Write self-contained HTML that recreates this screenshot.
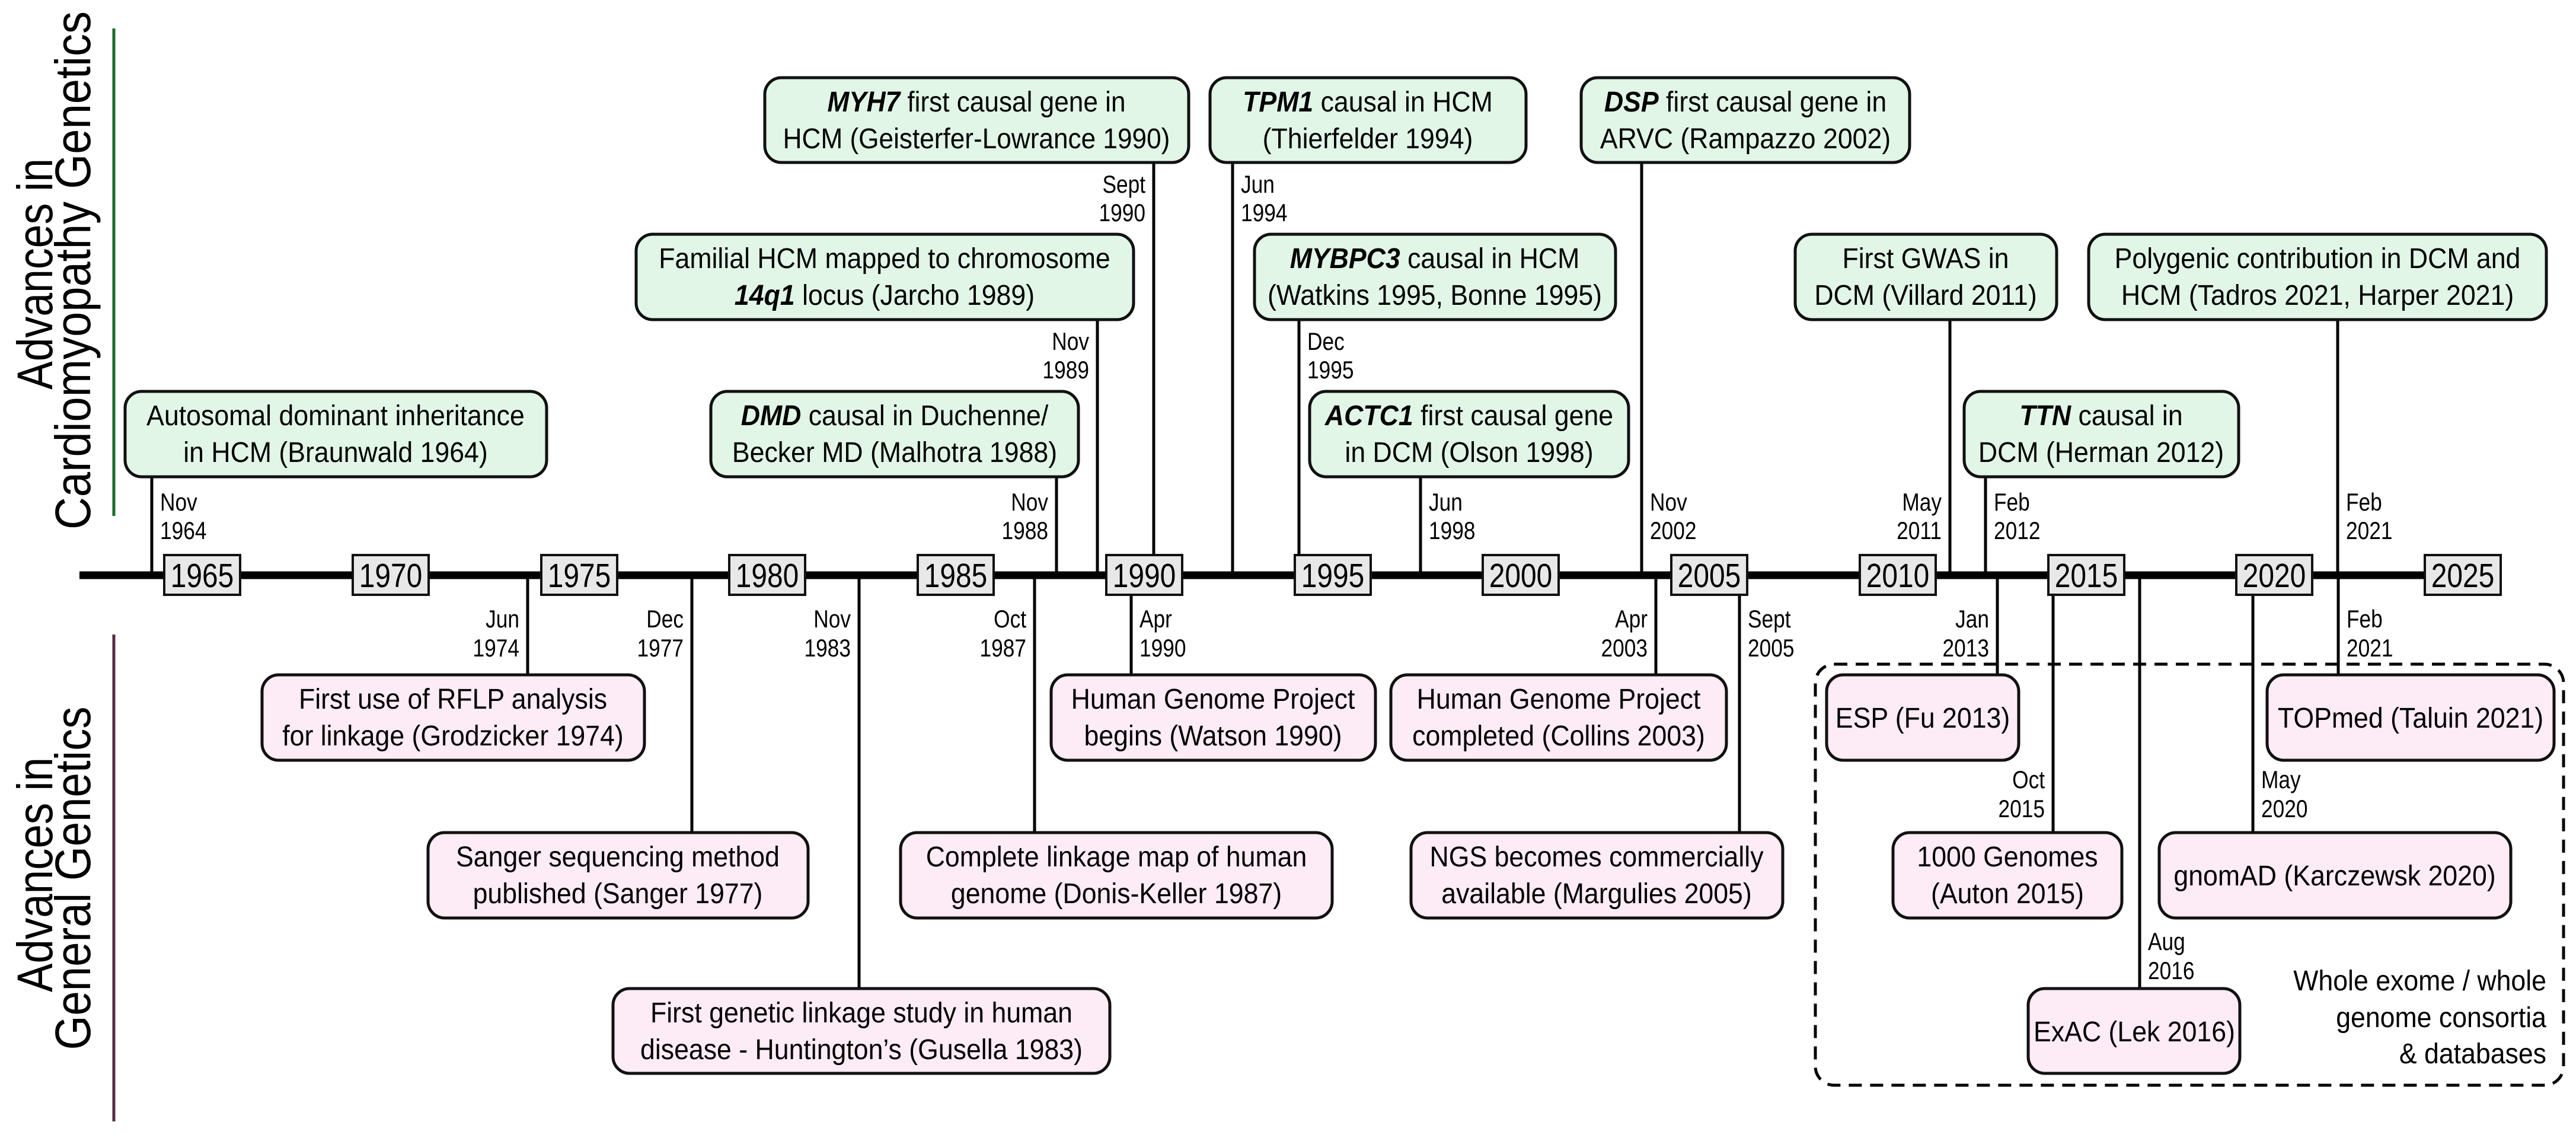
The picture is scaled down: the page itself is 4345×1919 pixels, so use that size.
<!DOCTYPE html>
<html><head><meta charset="utf-8"><style>
html,body{margin:0;padding:0;background:#fff;}
svg{display:block;}
text{font-family:"Liberation Sans",sans-serif;fill:#000;}
.bt{font-size:48px;}
.dt{font-size:42px;}
.yt{font-size:57px;}
</style></head><body>
<svg width="4345" height="1919" viewBox="0 0 4345 1919" xmlns="http://www.w3.org/2000/svg">
<!-- side titles -->
<g font-size="84">
<text transform="translate(88,462) rotate(-90)" text-anchor="middle" textLength="390" lengthAdjust="spacingAndGlyphs">Advances in</text>
<text transform="translate(152,456) rotate(-90)" text-anchor="middle" textLength="874" lengthAdjust="spacingAndGlyphs">Cardiomyopathy Genetics</text>
<text transform="translate(88,1475) rotate(-90)" text-anchor="middle" textLength="396" lengthAdjust="spacingAndGlyphs">Advances in</text>
<text transform="translate(152,1481) rotate(-90)" text-anchor="middle" textLength="579" lengthAdjust="spacingAndGlyphs">General Genetics</text>
</g>
<line x1="192" y1="48" x2="192" y2="870" stroke="#1a6b2a" stroke-width="5"/>
<line x1="192" y1="1070" x2="192" y2="1891" stroke="#5a2a44" stroke-width="5"/>

<!-- connectors -->
<g stroke="#000" stroke-width="5">
<line x1="256" y1="804" x2="256" y2="970"/>
<line x1="1851" y1="539" x2="1851" y2="970"/>
<line x1="1782" y1="804" x2="1782" y2="970"/>
<line x1="1946" y1="274" x2="1946" y2="970"/>
<line x1="2079" y1="274" x2="2079" y2="970"/>
<line x1="2191" y1="539" x2="2191" y2="970"/>
<line x1="2396" y1="804" x2="2396" y2="970"/>
<line x1="2769" y1="274" x2="2769" y2="970"/>
<line x1="3289" y1="539" x2="3289" y2="970"/>
<line x1="3349" y1="804" x2="3349" y2="970"/>
<line x1="3943" y1="539" x2="3943" y2="970"/>

<line x1="890" y1="970" x2="890" y2="1138"/>
<line x1="1167" y1="970" x2="1167" y2="1404"/>
<line x1="1449" y1="970" x2="1449" y2="1667"/>
<line x1="1745" y1="970" x2="1745" y2="1404"/>
<line x1="1908" y1="970" x2="1908" y2="1138"/>
<line x1="2793" y1="970" x2="2793" y2="1138"/>
<line x1="2934" y1="970" x2="2934" y2="1404"/>
<line x1="3369" y1="970" x2="3369" y2="1138"/>
<line x1="3463" y1="970" x2="3463" y2="1404"/>
<line x1="3609" y1="970" x2="3609" y2="1667"/>
<line x1="3800" y1="970" x2="3800" y2="1404"/>
<line x1="3944" y1="970" x2="3944" y2="1138"/>
</g>

<!-- axis -->
<line x1="134" y1="970" x2="4215" y2="970" stroke="#000" stroke-width="13"/>
<g fill="#e8e8e8" stroke="#111" stroke-width="4">
<rect x="277" y="936" width="128" height="67"/>
<rect x="595" y="936" width="128" height="67"/>
<rect x="913" y="936" width="128" height="67"/>
<rect x="1230" y="936" width="128" height="67"/>
<rect x="1548" y="936" width="128" height="67"/>
<rect x="1866" y="936" width="128" height="67"/>
<rect x="2184" y="936" width="128" height="67"/>
<rect x="2501" y="936" width="128" height="67"/>
<rect x="2819" y="936" width="128" height="67"/>
<rect x="3137" y="936" width="128" height="67"/>
<rect x="3455" y="936" width="128" height="67"/>
<rect x="3772" y="936" width="128" height="67"/>
<rect x="4090" y="936" width="128" height="67"/>
</g>
<g class="yt" text-anchor="middle">
<text transform="translate(341,990) scale(0.84,1)">1965</text>
<text transform="translate(659,990) scale(0.84,1)">1970</text>
<text transform="translate(977,990) scale(0.84,1)">1975</text>
<text transform="translate(1294,990) scale(0.84,1)">1980</text>
<text transform="translate(1612,990) scale(0.84,1)">1985</text>
<text transform="translate(1930,990) scale(0.84,1)">1990</text>
<text transform="translate(2248,990) scale(0.84,1)">1995</text>
<text transform="translate(2565,990) scale(0.84,1)">2000</text>
<text transform="translate(2883,990) scale(0.84,1)">2005</text>
<text transform="translate(3201,990) scale(0.84,1)">2010</text>
<text transform="translate(3519,990) scale(0.84,1)">2015</text>
<text transform="translate(3836,990) scale(0.84,1)">2020</text>
<text transform="translate(4154,990) scale(0.84,1)">2025</text>
</g>

<!-- green boxes -->
<g fill="#e1f6e7" stroke="#111" stroke-width="5">
<rect x="211" y="660" width="711" height="144" rx="28"/>
<rect x="1073" y="395" width="839" height="144" rx="28"/>
<rect x="1199" y="660" width="620" height="144" rx="28"/>
<rect x="1290" y="131" width="715" height="143" rx="28"/>
<rect x="2041" y="131" width="533" height="143" rx="28"/>
<rect x="2116" y="395" width="609" height="144" rx="28"/>
<rect x="2209" y="660" width="538" height="144" rx="28"/>
<rect x="2667" y="131" width="554" height="143" rx="28"/>
<rect x="3028" y="395" width="441" height="144" rx="28"/>
<rect x="3313" y="660" width="463" height="144" rx="28"/>
<rect x="3523" y="395" width="772" height="144" rx="28"/>
</g>
<!-- pink boxes -->
<g fill="#fdebf5" stroke="#111" stroke-width="5">
<rect x="442" y="1138" width="645" height="144" rx="28"/>
<rect x="722" y="1404" width="641" height="144" rx="28"/>
<rect x="1034" y="1667" width="838" height="143" rx="28"/>
<rect x="1519" y="1404" width="728" height="144" rx="28"/>
<rect x="1773" y="1138" width="547" height="144" rx="28"/>
<rect x="2346" y="1138" width="566" height="144" rx="28"/>
<rect x="2380" y="1404" width="627" height="144" rx="28"/>
<rect x="3081" y="1138" width="324" height="144" rx="28"/>
<rect x="3193" y="1404" width="386" height="144" rx="28"/>
<rect x="3421" y="1667" width="357" height="143" rx="28"/>
<rect x="3642" y="1404" width="593" height="144" rx="28"/>
<rect x="3824" y="1138" width="484" height="144" rx="28"/>
</g>
<rect x="3062" y="1120" width="1262" height="710" rx="32" fill="none" stroke="#000" stroke-width="5" stroke-dasharray="22 14"/>

<!-- box text -->
<g class="bt" text-anchor="middle">
<text transform="translate(566,717) scale(0.93,1)">Autosomal dominant inheritance</text>
<text transform="translate(566,779) scale(0.93,1)">in HCM (Braunwald 1964)</text>
<text transform="translate(1492,452) scale(0.93,1)">Familial HCM mapped to chromosome</text>
<text transform="translate(1492,514) scale(0.93,1)"><tspan font-weight="bold" font-style="italic">14q1</tspan> locus (Jarcho 1989)</text>
<text transform="translate(1509,717) scale(0.93,1)"><tspan font-weight="bold" font-style="italic">DMD</tspan> causal in Duchenne/</text>
<text transform="translate(1509,779) scale(0.93,1)">Becker MD (Malhotra 1988)</text>
<text transform="translate(1647,188) scale(0.92,1)"><tspan font-weight="bold" font-style="italic">MYH7</tspan> first causal  gene in</text>
<text transform="translate(1647,250) scale(0.92,1)">HCM (Geisterfer-Lowrance 1990)</text>
<text transform="translate(2307,188) scale(0.93,1)"><tspan font-weight="bold" font-style="italic">TPM1</tspan> causal in HCM</text>
<text transform="translate(2307,250) scale(0.93,1)">(Thierfelder 1994)</text>
<text transform="translate(2420,452) scale(0.93,1)"><tspan font-weight="bold" font-style="italic">MYBPC3</tspan> causal  in HCM</text>
<text transform="translate(2420,514) scale(0.93,1)">(Watkins 1995, Bonne 1995)</text>
<text transform="translate(2478,717) scale(0.93,1)"><tspan font-weight="bold" font-style="italic">ACTC1</tspan> first causal gene</text>
<text transform="translate(2478,779) scale(0.93,1)">in DCM (Olson 1998)</text>
<text transform="translate(2944,188) scale(0.93,1)"><tspan font-weight="bold" font-style="italic">DSP</tspan> first causal gene in</text>
<text transform="translate(2944,250) scale(0.93,1)">ARVC (Rampazzo 2002)</text>
<text transform="translate(3248,452) scale(0.93,1)">First GWAS in</text>
<text transform="translate(3248,514) scale(0.93,1)">DCM (Villard 2011)</text>
<text transform="translate(3544,717) scale(0.93,1)"><tspan font-weight="bold" font-style="italic">TTN</tspan> causal in</text>
<text transform="translate(3544,779) scale(0.93,1)">DCM (Herman 2012)</text>
<text transform="translate(3909,452) scale(0.93,1)">Polygenic contribution in DCM and</text>
<text transform="translate(3909,514) scale(0.93,1)">HCM (Tadros 2021, Harper 2021)</text>

<text transform="translate(764,1195) scale(0.93,1)">First use of RFLP analysis</text>
<text transform="translate(764,1257) scale(0.93,1)">for linkage (Grodzicker 1974)</text>
<text transform="translate(1042,1461) scale(0.93,1)">Sanger sequencing method</text>
<text transform="translate(1042,1523) scale(0.93,1)">published (Sanger 1977)</text>
<text transform="translate(1453,1724) scale(0.93,1)">First genetic linkage study in human</text>
<text transform="translate(1453,1786) scale(0.93,1)">disease - Huntington’s (Gusella 1983)</text>
<text transform="translate(1883,1461) scale(0.93,1)">Complete linkage map of human</text>
<text transform="translate(1883,1523) scale(0.93,1)">genome (Donis-Keller 1987)</text>
<text transform="translate(2046,1195) scale(0.93,1)">Human Genome Project</text>
<text transform="translate(2046,1257) scale(0.93,1)">begins (Watson 1990)</text>
<text transform="translate(2629,1195) scale(0.93,1)">Human Genome Project</text>
<text transform="translate(2629,1257) scale(0.93,1)">completed (Collins 2003)</text>
<text transform="translate(2693,1461) scale(0.93,1)">NGS becomes commercially</text>
<text transform="translate(2693,1523) scale(0.93,1)">available (Margulies 2005)</text>
<text transform="translate(3243,1227) scale(0.93,1)">ESP (Fu 2013)</text>
<text transform="translate(3386,1461) scale(0.93,1)">1000 Genomes</text>
<text transform="translate(3386,1523) scale(0.93,1)">(Auton 2015)</text>
<text transform="translate(3600,1756) scale(0.93,1)">ExAC (Lek 2016)</text>
<text transform="translate(3938,1493) scale(0.93,1)">gnomAD (Karczewsk 2020)</text>
<text transform="translate(4066,1227) scale(0.93,1)">TOPmed (Taluin 2021)</text>
</g>
<g class="bt" text-anchor="end">
<text transform="translate(4295,1670) scale(0.93,1)">Whole exome / whole</text>
<text transform="translate(4295,1732) scale(0.93,1)">genome consortia</text>
<text transform="translate(4295,1793) scale(0.93,1)">&amp; databases</text>
</g>

<!-- date labels: right of line -->
<g class="dt">
<text transform="translate(270,861) scale(0.84,1)">Nov</text><text transform="translate(270,909) scale(0.84,1)">1964</text>
<text transform="translate(2093,325) scale(0.84,1)">Jun</text><text transform="translate(2093,373) scale(0.84,1)">1994</text>
<text transform="translate(2205,590) scale(0.84,1)">Dec</text><text transform="translate(2205,638) scale(0.84,1)">1995</text>
<text transform="translate(2410,861) scale(0.84,1)">Jun</text><text transform="translate(2410,909) scale(0.84,1)">1998</text>
<text transform="translate(2783,861) scale(0.84,1)">Nov</text><text transform="translate(2783,909) scale(0.84,1)">2002</text>
<text transform="translate(3363,861) scale(0.84,1)">Feb</text><text transform="translate(3363,909) scale(0.84,1)">2012</text>
<text transform="translate(3957,861) scale(0.84,1)">Feb</text><text transform="translate(3957,909) scale(0.84,1)">2021</text>
<text transform="translate(1922,1058) scale(0.84,1)">Apr</text><text transform="translate(1922,1107) scale(0.84,1)">1990</text>
<text transform="translate(2948,1058) scale(0.84,1)">Sept</text><text transform="translate(2948,1107) scale(0.84,1)">2005</text>
<text transform="translate(3958,1058) scale(0.84,1)">Feb</text><text transform="translate(3958,1107) scale(0.84,1)">2021</text>
<text transform="translate(3814,1329) scale(0.84,1)">May</text><text transform="translate(3814,1378) scale(0.84,1)">2020</text>
<text transform="translate(3623,1602) scale(0.84,1)">Aug</text><text transform="translate(3623,1651) scale(0.84,1)">2016</text>
</g>
<!-- date labels: left of line -->
<g class="dt" text-anchor="end">
<text transform="translate(1837,590) scale(0.84,1)">Nov</text><text transform="translate(1837,638) scale(0.84,1)">1989</text>
<text transform="translate(1768,861) scale(0.84,1)">Nov</text><text transform="translate(1768,909) scale(0.84,1)">1988</text>
<text transform="translate(1932,325) scale(0.84,1)">Sept</text><text transform="translate(1932,373) scale(0.84,1)">1990</text>
<text transform="translate(3275,861) scale(0.84,1)">May</text><text transform="translate(3275,909) scale(0.84,1)">2011</text>
<text transform="translate(876,1058) scale(0.84,1)">Jun</text><text transform="translate(876,1107) scale(0.84,1)">1974</text>
<text transform="translate(1153,1058) scale(0.84,1)">Dec</text><text transform="translate(1153,1107) scale(0.84,1)">1977</text>
<text transform="translate(1435,1058) scale(0.84,1)">Nov</text><text transform="translate(1435,1107) scale(0.84,1)">1983</text>
<text transform="translate(1731,1058) scale(0.84,1)">Oct</text><text transform="translate(1731,1107) scale(0.84,1)">1987</text>
<text transform="translate(2779,1058) scale(0.84,1)">Apr</text><text transform="translate(2779,1107) scale(0.84,1)">2003</text>
<text transform="translate(3355,1058) scale(0.84,1)">Jan</text><text transform="translate(3355,1107) scale(0.84,1)">2013</text>
<text transform="translate(3449,1329) scale(0.84,1)">Oct</text><text transform="translate(3449,1378) scale(0.84,1)">2015</text>
</g>
</svg>
</body></html>
